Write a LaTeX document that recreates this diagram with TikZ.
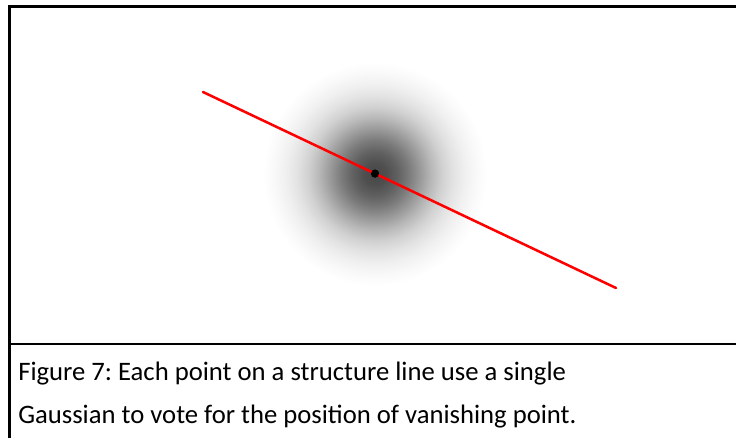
\documentclass[tikz,border=0pt]{standalone}
\usepackage{fontspec}
\setmainfont{Carlito}
\usepackage{xcolor}
\definecolor{voteRed}{RGB}{255, 0, 0}
\usepackage{tikz}
\usetikzlibrary{positioning, calc}
\frenchspacing
\pgfdeclareradialshading{gaussVote}{\pgfpoint{0bp}{0bp}}{%
  color(0bp)=(black!72); color(2.5bp)=(black!69); color(5bp)=(black!62);
  color(7.5bp)=(black!52); color(10bp)=(black!40); color(12.5bp)=(black!28);
  color(15bp)=(black!18); color(17.5bp)=(black!11); color(20bp)=(black!6);
  color(22.5bp)=(black!2.5); color(25bp)=(white); color(50bp)=(white)}

\begin{document}
\begin{tikzpicture}[x=0.75pt, y=-0.75pt,
    frame/.style={line width=1.6pt, black},
    structline/.style={line width=1.9pt, voteRed, line cap=round},
    caption/.style={anchor=base west, inner sep=0pt, font=\fontsize{20}{24}\selectfont}]
    \useasboundingbox (0,0) rectangle (736,438);
    \shade[shading=gaussVote] (375,174) circle (112);
    \draw[frame] (736,6.5) -- (9.5,6.5) -- (9.5,438);
    \draw[frame] (9.5,344) -- (736,344);
    \coordinate (lineStart) at (203,92);
    \coordinate (lineEnd) at (616,288);
    \node[circle, fill=black, inner sep=0pt, minimum size=6] (vp) at (375,173.6) {};
    \draw[structline] (lineStart) -- (vp.center) -- (lineEnd);
    \node[fill=black, circle, inner sep=0pt, minimum size=6] at (vp) {};
    \node[caption] (capA) at (18,381) {Figure 7: Each point on a structure line use a single};
    \node[caption] (capB) at (18,424) {Gaussian to vote for the position of vanishing point.};
\end{tikzpicture}
\end{document}
